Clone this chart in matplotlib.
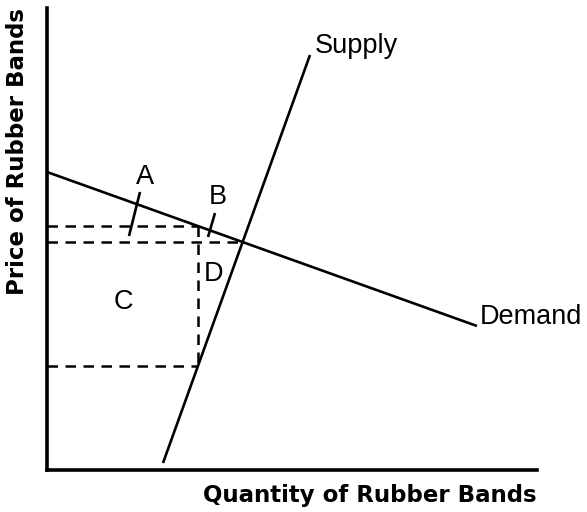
import numpy as np
import matplotlib
matplotlib.use("Agg")
import matplotlib.pyplot as plt

# demand and supply curves (quantity, price) in chart units
demand_q = [0, 430]
demand_p = [298, 144]
supply_q = [116, 263]
supply_p = [7, 415]

# quantity where the dashed box sits
quota_q = 151

# region labels and their positions
region_labels = ["A", "B", "C", "D"]
region_q = [98, 171, 76, 166]
region_p = [293, 273, 168, 196]

# leader lines for A and B
leader_a = ([82, 93], [234, 278])
leader_b = ([161, 168], [233, 257])

# curve labels
supply_label = ("Supply", 268, 424)
demand_label = ("Demand", 433, 153)


def demand_at(q):
    return np.interp(q, demand_q, demand_p)


def supply_at(q):
    return np.interp(q, supply_q, supply_p)


# equilibrium from the two straight lines
md = (demand_p[1] - demand_p[0]) / (demand_q[1] - demand_q[0])
ms = (supply_p[1] - supply_p[0]) / (supply_q[1] - supply_q[0])
eq_q = (supply_p[0] - ms * supply_q[0] - demand_p[0]) / (md - ms)
eq_p = demand_p[0] + md * eq_q

p_buy = demand_at(quota_q)
p_sell = supply_at(quota_q)

fig = plt.figure(figsize=(5.87, 5.12), dpi=100)
ax = fig.add_axes([47 / 587, 42 / 512, 490 / 587, 462 / 512])
ax.set_xlim(0, 490)
ax.set_ylim(0, 462)

for s in ["top", "right"]:
    ax.spines[s].set_visible(False)
for s in ["left", "bottom"]:
    ax.spines[s].set_linewidth(2.6)
ax.set_xticks([])
ax.set_yticks([])

line_kw = dict(color="black", lw=1.9, solid_capstyle="butt")
ax.plot(demand_q, demand_p, **line_kw)
ax.plot(supply_q, supply_p, **line_kw)

dash_kw = dict(color="black", lw=1.8, linestyle=(0, (4.2, 3.0)))
ax.plot([0, quota_q], [p_buy, p_buy], **dash_kw)
ax.plot([0, eq_q], [eq_p, eq_p], **dash_kw)
ax.plot([quota_q, quota_q], [p_buy, p_sell], **dash_kw)
ax.plot([0, quota_q], [p_sell, p_sell], **dash_kw)

ax.plot(*leader_a, **line_kw)
ax.plot(*leader_b, **line_kw)

txt_kw = dict(fontsize=19.5, family="Liberation Sans", color="black")
for lab, q, p in zip(region_labels, region_q, region_p):
    ax.text(q, p, lab, ha="center", va="center", **txt_kw)

ax.text(supply_label[1], supply_label[2], supply_label[0], ha="left", va="center", **txt_kw)
ax.text(demand_label[1], demand_label[2], demand_label[0], ha="left", va="center", **txt_kw)

ax.text(1.0, -0.03, "Quantity of Rubber Bands", transform=ax.transAxes,
        ha="right", va="top", fontsize=16.5, fontweight="bold", family="DejaVu Sans")
ax.text(-0.06, 1.0, "Price of Rubber Bands", transform=ax.transAxes, rotation=90,
        ha="center", va="top", fontsize=16.5, fontweight="bold", family="DejaVu Sans")

fig.savefig("out.png", dpi=100)
